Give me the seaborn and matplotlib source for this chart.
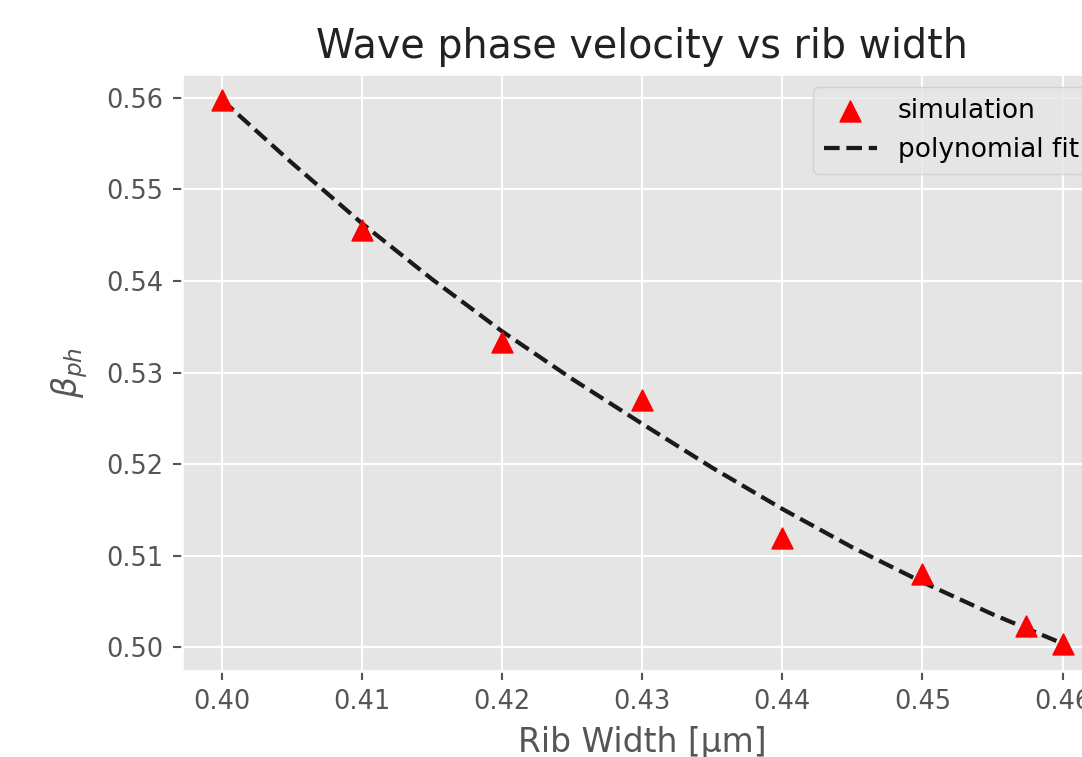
import matplotlib.pyplot as plt
import pandas as pd
import seaborn as sns

plt.style.use("ggplot")

# simulated points
rib_width = [0.40, 0.41, 0.42, 0.43, 0.44, 0.45, 0.4574, 0.46]
beta_ph = [0.5598, 0.5456, 0.5333, 0.5270, 0.5119, 0.5080, 0.5023, 0.5003]

# dashed polynomial fit curve, sampled from the chart
fit_width = [0.40, 0.405, 0.41, 0.415, 0.42, 0.425, 0.43, 0.435, 0.44, 0.445, 0.45, 0.455, 0.4575, 0.46]
fit_beta = [0.5598, 0.5529, 0.5463, 0.5402, 0.5345, 0.5293, 0.5244, 0.5196, 0.5151, 0.5109, 0.5071, 0.5036, 0.5020, 0.5004]

sim = pd.DataFrame({"width": rib_width, "beta": beta_ph})
fit = pd.DataFrame({"width": fit_width, "beta": fit_beta})

dpi = 190
fig = plt.figure(figsize=(1082 / dpi, 757 / dpi), dpi=dpi)
ax = fig.add_axes([0.168, 0.1136, 0.851, 0.7886])

sns.scatterplot(data=sim, x="width", y="beta", marker="^", s=62, color="red",
                edgecolor="red", linewidth=0.6, label="simulation", ax=ax, zorder=3)
sns.lineplot(data=fit, x="width", y="beta", color="#1a1a1a", linestyle="--",
             linewidth=1.6, label="polynomial fit", ax=ax, zorder=2)

ax.set_xlim(0.39715, 0.46285)
ax.set_ylim(0.4974, 0.5626)
ax.set_xticks([0.40, 0.41, 0.42, 0.43, 0.44, 0.45, 0.46])
ax.set_yticks([0.50, 0.51, 0.52, 0.53, 0.54, 0.55, 0.56])
ax.tick_params(labelsize=9.7)

ax.set_title("Wave phase velocity vs rib width", fontsize=15, color="#222222")
ax.set_xlabel("Rib Width [µm]", fontsize=12.5)
ax.set_ylabel(r"$\beta_{ph}$", fontsize=12.5, labelpad=6)

ax.legend(loc="upper right", fontsize=10, numpoints=1, scatterpoints=1)

fig.savefig("out.png", dpi=dpi)
